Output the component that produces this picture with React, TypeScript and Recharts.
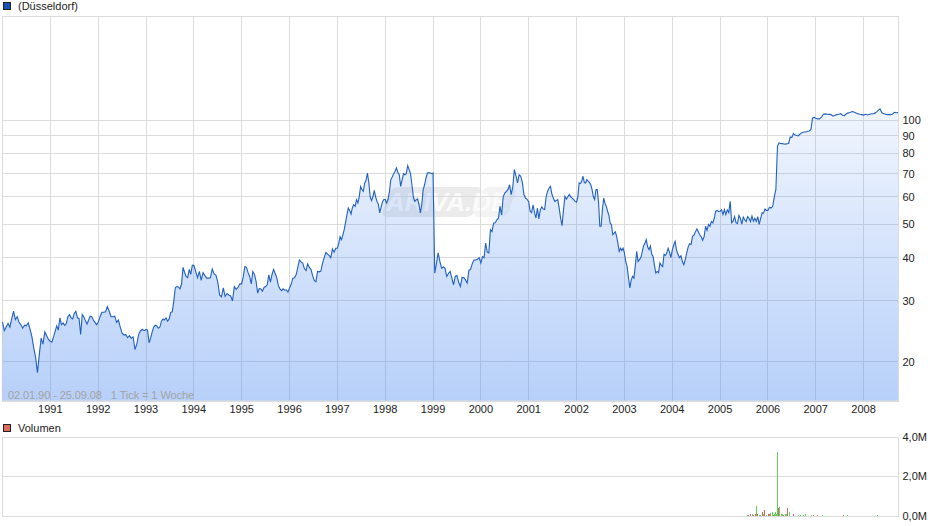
import { Area, AreaChart, Bar, BarChart, CartesianGrid, ReferenceArea, XAxis, YAxis } from "recharts";

const price1990 = [26.1, 24.6, 25.2, 25.8, 25.2, 26.6, 28, 26.5, 27, 26, 25.6, 25, 25.5, 25.4, 25.9, 24.8, 23.6, 21.9, 20.6, 18.6, 21, 23.4, 22.5, 24.4, 23.8, 23.2];
const price1991 = [22.9, 22.8, 23.6, 24.5, 25.4, 24.7, 26.8, 25.6, 25.9, 25.5, 25.8, 27, 27.4, 26.8, 26.6, 27.6, 28, 26.8, 26.7, 24, 27.4, 27, 26.3, 25.7, 26.4, 27.1, 27, 26.4, 26, 25.6];
const price1992 = [26, 27, 27.8, 27.8, 27.9, 28.9, 28, 27, 27, 27.1, 26, 26.4, 25.2, 24.2, 23.9, 24, 23.5, 23.8, 23.4, 23.6, 21.7, 22.5, 24, 24.6, 24.8, 24.6];
const price1993 = [24.8, 24.7, 22.7, 23.4, 24.4, 25.2, 25.5, 25.4, 25, 25.2, 26.2, 26.6, 26.4, 26.8, 26.2, 26.6, 27.8, 27.9, 30, 32.8, 33, 32.9, 32.5, 33.5, 37.5, 36.3, 35.3, 35, 37, 35.8, 38];
const price1994 = [38, 36.5, 35, 36.5, 34.4, 36.2, 35.5, 34.9, 34.9, 35, 37.1, 35.9, 35.6, 34, 31.2, 30.8, 32.7, 30.9, 31.5, 31.2, 31, 30, 33, 32.4, 32.8, 33.6];
const price1995 = [33.6, 35.3, 37.7, 37.5, 36.2, 35.3, 33.6, 36.5, 35.8, 34.2, 31.6, 32.6, 32.5, 32, 32.8, 33, 33.4, 35.7, 34, 35.7, 37, 36, 35, 33.2, 32.5, 32.1, 32.5, 32.2, 32.3, 31.8];
const price1996 = [32.7, 33.5, 34.9, 35, 35.7, 37.5, 39.4, 38.9, 38.6, 37.2, 36.7, 38.4, 37.5, 37, 35.5, 34.4, 34.1, 36.5, 36.4, 36.6, 38.5, 40, 41.4, 41, 40.6, 40, 42.4, 41.5, 42.6];
const price1997 = [42.6, 44, 46, 45.1, 46.5, 48.2, 50.5, 53.2, 55.7, 54.8, 53.5, 55.8, 56.9, 56.3, 58.9, 57.6, 60, 64.3, 63, 62.2, 65.8, 67, 70.3, 66, 60, 58.5, 60, 62.6, 60, 58.2, 57, 53.9, 56, 58, 58.9];
const price1998 = [58.9, 57.6, 59, 62, 67.3, 68.5, 70, 71, 72.7, 70.5, 69.5, 64.3, 67, 70, 69.5, 70, 73.8, 71.9, 70, 65, 60, 58.2, 58.8, 59.1, 57, 53.9, 57, 62.9, 65, 68, 70.3, 70.5, 70.3, 70];
const price1999 = [70.3, 36.1, 38.5, 41.3, 39, 37.3, 37.6, 37.3, 35.3, 36, 36.5, 34.9, 33.4, 35.3, 35.5, 34, 33, 35.1, 35, 34.5, 33.8, 36.8, 37, 38.5, 39.4, 39.4, 39.6, 40];
const price2000 = [38.6, 40.3, 40, 44.1, 41.5, 41.3, 48.2, 47.6, 50.4, 50.5, 51.5, 52, 56.3, 53.2, 60, 61.5, 62.2, 63, 65, 60.9, 64, 71.9, 69, 65.8, 69.5, 68.8, 66, 60.9, 59.5, 59];
const price2001 = [58, 54.5, 54, 56.9, 54, 52.1, 55.7, 51.8, 55, 56.1, 55.3, 55.1, 60, 62.2, 63.5, 64.3, 61, 59.5, 58.2, 58.5, 58.9, 55.7, 52, 49.5, 55, 60.2, 59.1, 60, 60.9, 60, 59.5, 58.9, 58.2];
const price2002 = [57.9, 60, 65.8, 65.5, 66.5, 68.8, 66, 65.8, 67.3, 66.5, 66, 65, 62.9, 60, 58.9, 62.9, 63, 58, 49.3, 49.3, 55, 59.5, 57.5, 56.3, 54.5, 53, 50.4, 49.8, 46.6, 47.1, 47.5, 46.1, 44, 41.7, 42.6, 42, 42.6];
const price2003 = [41.3, 39, 37.7, 35, 32.7, 34.5, 35.3, 34.9, 38, 41.7, 39, 39.5, 40, 41.5, 43.2, 44, 45.1, 43, 42.2, 43.2, 41, 40.3, 38, 36.1, 36.5, 36.2, 38.6, 38, 37.7, 40.9, 40.6, 41.3, 42.6, 41.5, 40];
const price2004 = [42, 43.5, 44.6, 42, 40.9, 40, 40.5, 39, 38.2, 39.5, 41.3, 43, 43.9, 43.7, 46.1, 46.5, 47.5, 48.4, 47.5, 46.6, 46, 44.9, 46, 49.3, 48, 49.9, 49.3, 50.9, 50.4, 52, 54.5, 54.8, 54.4];
const price2005 = [54.5, 55, 53.3, 55.1, 53.3, 55, 54, 58.2, 50.5, 51, 52.6, 50.5, 50.2, 53, 52, 50, 52.4, 51.5, 50.9, 52.6, 52, 50.9, 52.8, 51, 52, 50.9, 52.6, 49.9, 52, 53.9, 53.8, 55.3, 54.8];
const price2006 = [54.8, 56, 55.7, 56.3, 60, 63, 84, 85.9, 85.6, 85.5, 85.3, 85.2, 85.4, 85.6, 89.4, 89, 91.5, 90.5, 90.2, 90, 91, 91.8, 92.2, 92.4, 92.4, 92.8, 93, 94, 101.5, 101.8];
const price2007 = [101.2, 100.8, 100.8, 102, 104, 104.2, 104, 103.9, 103.7, 102.6, 103.2, 103.7, 104, 104.4, 103.3, 103, 104.3, 104.9, 105.2, 105.8, 105.5, 104.9, 104.3, 103.9, 103.7];
const price2008 = [103.4, 103.9, 103.5, 103.9, 104.3, 104.4, 105.1, 106.5, 107.7, 104.8, 104.3, 103.9, 103.7, 103.7, 103.9, 105.3, 105, 105.1];

const priceByYear = [
  price1990, price1991, price1992, price1993, price1994, price1995, price1996,
  price1997, price1998, price1999, price2000, price2001, price2002, price2003,
  price2004, price2005, price2006, price2007, price2008,
];

const volumeDates = [2005.583, 2005.604, 2005.646, 2005.688, 2005.708, 2005.736, 2005.771, 2005.792, 2005.819, 2005.847, 2005.889, 2005.917, 2005.938, 2005.965, 2006.007, 2006.035, 2006.062, 2006.09, 2006.111, 2006.132, 2006.167, 2006.188, 2006.208, 2006.229, 2006.25, 2006.285, 2006.312, 2006.333, 2006.368, 2006.389, 2006.417, 2006.458, 2006.542, 2006.646, 2006.681, 2006.715, 2006.75, 2006.785, 2006.819, 2006.91, 2006.958, 2007.042, 2007.146, 2007.583, 2007.667, 2008.292];
const volumeUp = [0.05, 0, 0, 0.12, 0, 0, 0.5, 0, 0.06, 0.06, 0, 0.12, 0, 0.05, 0, 0, 0.15, 0.2, 0, 0.1, 0.2, 0.1, 3.24, 0, 0.45, 0.1, 0.12, 0, 0.1, 0.08, 0, 0.2, 0, 0.03, 0.03, 0.04, 0.05, 0.12, 0, 0.06, 0, 0, 0.03, 0, 0.04, 0.03];
const volumeDown = [0, 0.06, 0.08, 0, 0.05, 0.1, 0, 0.1, 0, 0, 0.2, 0, 0.28, 0, 0.1, 0.08, 0, 0, 0.05, 0, 0, 0, 0, 0.4, 0, 0, 0, 0.06, 0, 0, 0.4, 0, 0.08, 0, 0, 0, 0, 0, 0.02, 0, 0.04, 0.04, 0, 0.05, 0, 0];

const yearTicks = [1991, 1992, 1993, 1994, 1995, 1996, 1997, 1998, 1999, 2000, 2001, 2002, 2003, 2004, 2005, 2006, 2007, 2008];
const priceTicks = [20, 30, 40, 50, 60, 70, 80, 90, 100];
const volumeTicks = [0, 2, 4];

// last trading week shown is 25.09.08
const LAST_DATE = 2008.73;
const FONT = "'Liberation Sans', Arial, sans-serif";
const GRID = "#dcdcdc";
const TICK = { fontSize: 11, fill: "#222", fontFamily: FONT };

const priceData = priceByYear.flatMap((values, y) => {
  const span = y === priceByYear.length - 1 ? LAST_DATE - 2008 : 1;
  return values.map((price, i) => ({ date: 1990 + y + (i / (values.length - (y === priceByYear.length - 1 ? 1 : 0))) * span, price }));
});

const volumeData = volumeDates.map((date, i) => ({ date, up: volumeUp[i], down: volumeDown[i] }));

function LegendKey({ top, color, label }: { top: number; color: string; label: string }) {
  return (
    <>
      <div style={{ position: "absolute", left: 3, top, width: 6, height: 6, background: color, border: "1px solid #222" }} />
      <div style={{ position: "absolute", left: 18, top: top - 3, fontSize: 11, lineHeight: "14px", fontFamily: FONT, color: "#222" }}>{label}</div>
    </>
  );
}

function Watermark() {
  return (
    <div style={{ position: "absolute", left: 380, top: 187, width: 140, height: 30 }}>
      <div style={{ position: "absolute", left: 6, top: 0, width: 92, height: 30, background: "#ebebeb", transform: "skewX(-20deg)", borderRadius: 6 }} />
      <div style={{ position: "absolute", left: 98, top: 0, width: 34, height: 30, background: "#f3f3f3", transform: "skewX(-20deg)", borderRadius: 6 }} />
      <div style={{ position: "absolute", left: 6, top: 1, fontSize: 26, lineHeight: "28px", fontStyle: "italic", fontWeight: 700, color: "#fbfbfb", fontFamily: FONT, whiteSpace: "nowrap" }}>ARIVA.DE</div>
    </div>
  );
}

export default function App() {
  return (
    <div style={{ position: "absolute", left: 0, top: 0, width: 940, height: 526, background: "#fff" }}>
      <Watermark />
      <LegendKey top={2} color="#1653b5" label="(Düsseldorf)" />
      <div style={{ position: "absolute", left: 0, top: 0 }}>
        <AreaChart width={940} height={420} data={priceData} margin={{ top: 16, right: 0, bottom: 0, left: 2.5 }}>
          <defs>
            <linearGradient id="priceFill" x1="0" y1="0" x2="0" y2="1">
              <stop offset="0%" stopColor="#4b89f0" stopOpacity={0.08} />
              <stop offset="100%" stopColor="#4b89f0" stopOpacity={0.4} />
            </linearGradient>
          </defs>
          <CartesianGrid stroke={GRID} shapeRendering="crispEdges" />
          <XAxis
            dataKey="date"
            type="number"
            domain={[1990, LAST_DATE]}
            ticks={yearTicks}
            interval={0}
            height={19}
            tickLine={false}
            tickMargin={-2}
            axisLine={{ stroke: GRID }}
            tick={TICK}
          />
          <YAxis
            orientation="right"
            scale="log"
            domain={[15.4, 200]}
            allowDataOverflow
            ticks={priceTicks}
            interval={0}
            width={41.5}
            tickLine={false}
            tickMargin={-2}
            axisLine={{ stroke: GRID }}
            tick={TICK}
          />
          <ReferenceArea x1={1990} x2={LAST_DATE} y1={15.4} y2={200} fill="none" stroke={GRID} shapeRendering="crispEdges" />
          <Area
            type="linear"
            dataKey="price"
            stroke="#2160c0"
            strokeWidth={1.1}
            fill="url(#priceFill)"
            fillOpacity={1}
            dot={false}
            activeDot={false}
            isAnimationActive={false}
          />
        </AreaChart>
      </div>
      <div style={{ position: "absolute", left: 8, top: 388, fontSize: 11, lineHeight: "14px", letterSpacing: -0.08, fontFamily: FONT, color: "#a3a3a3", whiteSpace: "pre" }}>
        {"02.01.90 - 25.09.08   1 Tick = 1 Woche"}
      </div>
      <LegendKey top={424} color="#e06a64" label="Volumen" />
      <div style={{ position: "absolute", left: 0, top: 430 }}>
        <BarChart width={940} height={96} data={volumeData} margin={{ top: 7, right: 0, bottom: 10, left: 2.5 }}>
          <CartesianGrid stroke={GRID} shapeRendering="crispEdges" />
          <XAxis dataKey="date" type="number" domain={[1990, LAST_DATE]} ticks={yearTicks} interval={0} height={0} tick={false} tickLine={false} axisLine={{ stroke: GRID }} />
          <YAxis
            orientation="right"
            domain={[0, 4]}
            ticks={volumeTicks}
            interval={0}
            width={41.5}
            tickLine={false}
            tickMargin={-2}
            axisLine={{ stroke: GRID }}
            tick={TICK}
            tickFormatter={(v: number) => v.toFixed(1).replace(".", ",") + "M"}
          />
          <ReferenceArea x1={1990} x2={LAST_DATE} y1={0} y2={4} fill="none" stroke={GRID} shapeRendering="crispEdges" />
          <Bar dataKey="up" stackId="v" fill="#5cd65c" barSize={1} shapeRendering="crispEdges" isAnimationActive={false} />
          <Bar dataKey="down" stackId="v" fill="#e06060" barSize={1} shapeRendering="crispEdges" isAnimationActive={false} />
        </BarChart>
      </div>
    </div>
  );
}
